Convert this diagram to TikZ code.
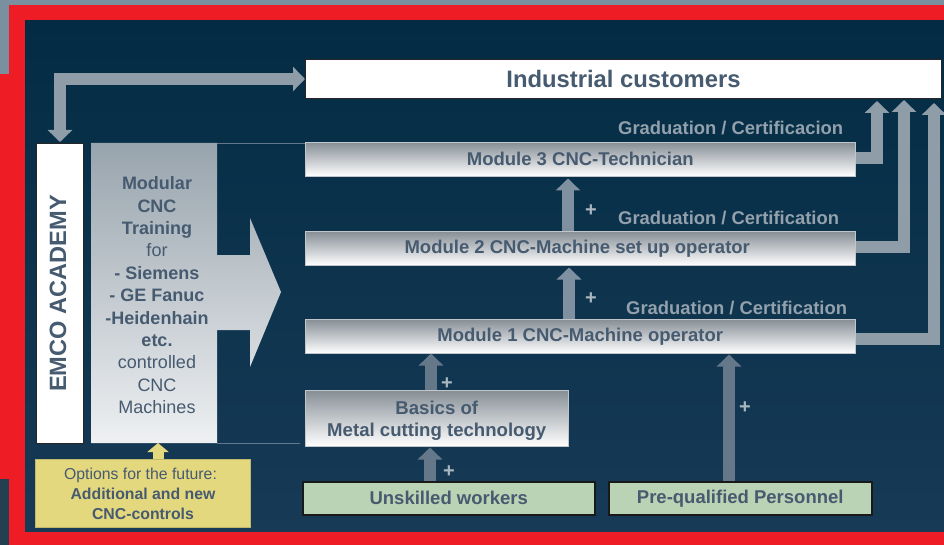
\documentclass[tikz,border=0pt]{standalone}
\usepackage{fontspec}
\setmainfont{Liberation Sans}
\usetikzlibrary{arrows.meta,calc}
\definecolor{redframe}{HTML}{EE1C25}
\definecolor{slate}{HTML}{7A909F}
\definecolor{cornerdark}{HTML}{22404F}
\definecolor{panelTop}{HTML}{032C44}
\definecolor{panelBot}{HTML}{173A56}
\definecolor{flowgray}{HTML}{8E9DA8}
\definecolor{flowmid}{HTML}{7F91A0}
\definecolor{flowdark}{HTML}{64788A}
\definecolor{inktext}{HTML}{465A70}
\definecolor{gradtext}{HTML}{92A1AC}
\definecolor{plustext}{HTML}{A9B6BF}
\definecolor{paleGreen}{HTML}{BAD3B4}
\definecolor{paleYellow}{HTML}{E4D87E}
\definecolor{modTop}{HTML}{868F96}
\definecolor{modMid}{HTML}{C2C6CA}
\definecolor{blockTop}{HTML}{98A4AD}
\definecolor{blockBot}{HTML}{EEF0F2}
\tikzset{
  x=1pt,y=-1pt,
  plainbox/.style={draw=#1,line width=1pt,inner sep=0pt,anchor=north west,text=inktext},
  whitebox/.style={plainbox=black!85,fill=white,font=\bfseries},
  modbox/.style={inner sep=0pt,anchor=north west,text=inktext,font=\bfseries\fontsize{18.5}{22}\selectfont,
    top color=modTop,bottom color=white,middle color=modMid,draw=modMid,line width=.5pt},
  greenbox/.style={plainbox=black!90,fill=paleGreen,font=\bfseries\fontsize{18.5}{22}\selectfont,line width=1.5pt},
  gradlabel/.style={text=gradtext,font=\bfseries\fontsize{18.4}{22}\selectfont,inner sep=0pt},
  pluslabel/.style={text=plustext,font=\bfseries\fontsize{20}{22}\selectfont,inner sep=0pt},
  flow/.style={draw=flowgray,line width=12pt,-{Triangle[width=24pt,length=12pt]},line join=miter},
  flowup/.style={flow,draw=#1},
  flowup/.default=flowdark
}
\begin{document}
\begin{tikzpicture}
\useasboundingbox (0,0) rectangle (944,545);
% backdrop
\fill[redframe] (0,0) rectangle (944,545);
\fill[slate] (0,0) rectangle (944,5);
\fill[slate] (0,0) rectangle (9,74);
\fill[cornerdark] (0,479) rectangle (9,545);
\shade[top color=panelTop,bottom color=panelBot] (25,21) rectangle (944,531);
% thin guide lines
\draw[flowdark,line width=.5pt] (217,143) -- (305,143);
\draw[flowdark,line width=.5pt] (217,443) -- (300,443);
% training block arrow
\shade[top color=blockTop,bottom color=blockBot]
  (91,143) -- (217,143) -- (217,255) -- (250,255) -- (250,218) -- (281,292)
  -- (250,367) -- (250,330) -- (217,330) -- (217,443) -- (91,443) -- cycle;
% nodes
\node[whitebox,minimum width=636pt,minimum height=39pt,font=\bfseries\fontsize{23.8}{26}\selectfont] (cust) at (305,59) {Industrial customers};
\node[whitebox,minimum width=47pt,minimum height=300pt] (emco) at (36,143) {};
\node[rotate=90,text=inktext,font=\bfseries\fontsize{23.6}{26}\selectfont,inner sep=0pt] (emcot) at (58,293.5) {EMCO ACADEMY};
\node[text=inktext,align=center,inner sep=0pt,anchor=north,font=\fontsize{18}{22.4}\selectfont] (train) at (157,176.5)
 {\textbf{Modular}\\\textbf{CNC}\\\textbf{Training}\\for\\\textbf{- Siemens}\\\textbf{- GE Fanuc}\\\textbf{-Heidenhain}\\\textbf{etc.}\\controlled\\CNC\\Machines};
\node[modbox,minimum width=550pt,minimum height=34pt] (m3) at (305,142) {Module 3 CNC-Technician};
\node[modbox,minimum width=550pt,minimum height=34pt] (m2) at (305,231) {Module 2 CNC-Machine set up operator\hspace*{6pt}};
\node[modbox,minimum width=550pt,minimum height=34pt] (m1) at (305,319) {\raisebox{-1.5pt}{Module 1 CNC-Machine operator}};
\node[modbox,minimum width=263pt,minimum height=56pt,align=center,font=\bfseries\fontsize{18.6}{22.5}\selectfont] (basics) at (305,390) {\rule{0pt}{18pt}Basics of\\Metal cutting technology};
\node[greenbox,minimum width=292pt,minimum height=33pt] (unsk) at (302,481) {Unskilled workers};
\node[greenbox,minimum width=263pt,minimum height=33pt] (prequal) at (608,481) {Pre-qualified Personnel};
\node[plainbox=paleYellow!85!black,fill=paleYellow,minimum width=215pt,minimum height=68pt,align=center,font=\fontsize{15.8}{20}\selectfont] (opt) at (35,459)
 {Options for the future:\hspace*{5pt}\\\textbf{Additional and new}\\\textbf{CNC-controls}};
% labels
\node[gradlabel,anchor=west] (g3) at (618,128) {Graduation / Certificacion};
\node[gradlabel,anchor=west] (g2) at (618,218) {Graduation / Certification};
\node[gradlabel,anchor=west] (g1) at (626,308) {Graduation / Certification};
\node[pluslabel] (p1) at (591,211) {+};
\node[pluslabel] (p2) at (591,299) {+};
\node[pluslabel] (p3) at (447,384) {+};
\node[pluslabel] (p4) at (449,472) {+};
\node[pluslabel] (p5) at (745,408) {+};
% connectors
\draw[flow,{Triangle[width=24pt,length=12pt]}-{Triangle[width=24pt,length=12pt]},shorten <=1pt]
  (emco.north) |- (cust.west);
\draw[flow,shorten >=2pt] ([yshift=1pt]m3.east) -| ([xshift=-65pt]cust.south east);
\draw[flow,shorten >=1pt] ([yshift=1pt]m2.east) -| ([xshift=-38pt]cust.south east);
\draw[flow,shorten >=4pt] ([yshift=-3pt]m1.east) -| ([xshift=-8pt]cust.south east);
\draw[flow,shorten >=2pt,draw=flowmid] (m2.north -| 568,0) -- (m3.south -| 568,0);
\draw[flow,shorten >=2pt,draw=flowmid] (m1.north -| 569,0) -- (m2.south -| 569,0);
\draw[flowup,shorten >=0pt] (basics.north -| 431,0) -- (m1.south -| 431,0);
\draw[flowup,shorten >=1pt] (unsk.north -| 430,0) -- (basics.south -| 430,0);
\draw[flowup,shorten >=1pt] (prequal.north -| 729,0) -- (m1.south -| 729,0);
\draw[flow,draw=paleYellow,line width=11pt,-{Triangle[width=21pt,length=9pt]}] (opt.north -| 158,0) -- (158,443);
\end{tikzpicture}
\end{document}
